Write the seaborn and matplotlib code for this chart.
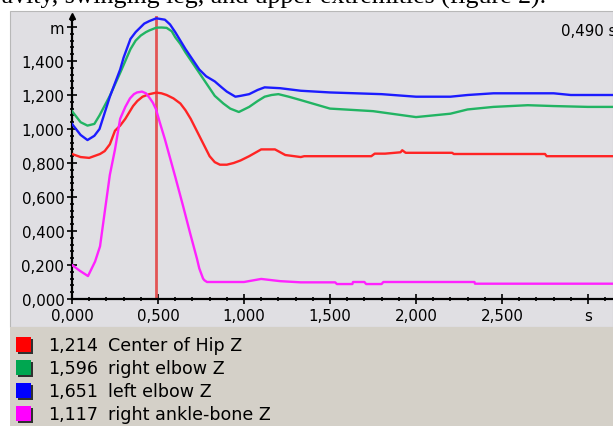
import numpy as np
import pandas as pd
import matplotlib
matplotlib.use("Agg")
import matplotlib.pyplot as plt
from matplotlib.patches import Rectangle
from matplotlib.ticker import MultipleLocator, FuncFormatter
import seaborn as sns

# series: time (s) and height (m)
hip_t = [0, 0.05, 0.10, 0.163, 0.19, 0.22, 0.25, 0.28, 0.31, 0.355, 0.38, 0.41, 0.45, 0.49, 0.52,
         0.55, 0.59, 0.63, 0.66, 0.69, 0.74, 0.77, 0.80, 0.83, 0.86, 0.90, 0.94, 0.98, 1.03, 1.10,
         1.18, 1.24, 1.33, 1.35, 1.74, 1.76, 1.82, 1.91, 1.92, 1.94, 2.21, 2.22, 2.75, 2.76, 3.145]
hip_z = [0.853, 0.835, 0.83, 0.853, 0.87, 0.91, 0.99, 1.02, 1.06, 1.135, 1.165, 1.19, 1.205, 1.214, 1.21,
         1.20, 1.18, 1.15, 1.11, 1.06, 0.96, 0.90, 0.84, 0.805, 0.79, 0.79, 0.80, 0.815, 0.84, 0.88,
         0.88, 0.847, 0.835, 0.84, 0.84, 0.855, 0.855, 0.863, 0.875, 0.86, 0.86, 0.853, 0.853, 0.84, 0.84]

r_elbow_t = [0, 0.05, 0.09, 0.13, 0.16, 0.22, 0.28, 0.34, 0.37, 0.40, 0.43, 0.45, 0.49, 0.52, 0.55,
             0.58, 0.60, 0.63, 0.66, 0.70, 0.74, 0.78, 0.83, 0.88, 0.92, 0.97, 1.03, 1.08, 1.12,
             1.16, 1.20, 1.26, 1.33, 1.5, 1.75, 2.0, 2.2, 2.3, 2.45, 2.65, 2.8, 3.0, 3.145]
r_elbow_z = [1.105, 1.04, 1.02, 1.03, 1.08, 1.195, 1.33, 1.47, 1.52, 1.55, 1.57, 1.58, 1.596, 1.597, 1.595,
             1.575, 1.54, 1.50, 1.45, 1.39, 1.33, 1.27, 1.195, 1.15, 1.12, 1.10, 1.13, 1.165, 1.19,
             1.20, 1.205, 1.19, 1.17, 1.12, 1.105, 1.07, 1.09, 1.115, 1.13, 1.14, 1.135, 1.13, 1.13]

l_elbow_t = [0, 0.05, 0.09, 0.13, 0.16, 0.22, 0.28, 0.30, 0.34, 0.37, 0.40, 0.42, 0.45, 0.49, 0.54,
             0.57, 0.60, 0.63, 0.66, 0.70, 0.74, 0.78, 0.83, 0.87, 0.90, 0.95, 0.98, 1.03, 1.08,
             1.12, 1.21, 1.33, 1.5, 1.8, 2.0, 2.2, 2.3, 2.45, 2.8, 2.9, 3.145]
l_elbow_z = [1.03, 0.965, 0.935, 0.96, 1.0, 1.19, 1.35, 1.42, 1.53, 1.57, 1.60, 1.62, 1.635, 1.651, 1.643,
             1.615, 1.57, 1.52, 1.47, 1.41, 1.35, 1.31, 1.28, 1.245, 1.22, 1.19, 1.195, 1.205, 1.23,
             1.245, 1.24, 1.225, 1.215, 1.205, 1.19, 1.19, 1.20, 1.21, 1.21, 1.20, 1.20]

ankle_t = [0, 0.047, 0.093, 0.134, 0.163, 0.19, 0.22, 0.25, 0.28, 0.31, 0.337, 0.36, 0.378, 0.407,
           0.43, 0.453, 0.47, 0.488, 0.51, 0.54, 0.57, 0.60, 0.645, 0.686, 0.727, 0.74, 0.762,
           0.77, 0.785, 1.0, 1.1, 1.21, 1.33, 1.53, 1.54, 1.63, 1.634, 1.70, 1.71, 1.80, 1.81,
           2.34, 2.343, 3.145]
ankle_z = [0.2, 0.165, 0.135, 0.22, 0.31, 0.51, 0.73, 0.88, 1.06, 1.13, 1.18, 1.205, 1.215, 1.22,
           1.21, 1.18, 1.155, 1.117, 1.04, 0.94, 0.83, 0.72, 0.55, 0.39, 0.235, 0.18, 0.12,
           0.11, 0.10, 0.10, 0.118, 0.105, 0.098, 0.098, 0.088, 0.088, 0.10, 0.10, 0.088, 0.088, 0.10,
           0.10, 0.09, 0.09]

names = ["Center of Hip Z", "right elbow Z", "left elbow Z", "right ankle-bone Z"]
cursor_vals = ["1,214", "1,596", "1,651", "1,117"]
cursor_t = 0.490
line_colors = ["#ff2424", "#22b463", "#1c1cff", "#ff22ff"]
box_colors = ["#ff0000", "#00a650", "#0000ff", "#ff00ff"]

df = pd.concat([
    pd.DataFrame({"t": hip_t, "z": hip_z, "series": names[0]}),
    pd.DataFrame({"t": r_elbow_t, "z": r_elbow_z, "series": names[1]}),
    pd.DataFrame({"t": l_elbow_t, "z": l_elbow_z, "series": names[2]}),
    pd.DataFrame({"t": ankle_t, "z": ankle_z, "series": names[3]}),
], ignore_index=True)

W, H = 613, 427
fx = lambda px: px / W
fy = lambda py: 1 - py / H

fig = plt.figure(figsize=(W / 100, H / 100), dpi=100)
fig.patch.set_facecolor("white")

# gray plot panel and beige legend panel
fig.patches.append(Rectangle((fx(10), fy(328)), fx(603), 316 / H, transform=fig.transFigure,
                             facecolor="#e0dfe3", edgecolor="#b8b8b8", lw=0.8, zorder=-2))
fig.patches.append(Rectangle((fx(10), 0), fx(603), fy(328), transform=fig.transFigure,
                             facecolor="#d4d0c8", edgecolor="none", zorder=-2))

# cropped caption line above the screenshot
fig.text(fx(546), fy(4), "gravity, swinging leg, and upper extremities (figure 2).",
         family="Liberation Serif", fontsize=18.6, ha="right", va="baseline")

ax = fig.add_axes([fx(72), fy(300), (W - 72) / W, (300 - 17) / H])
ax.set_zorder(5)
ax.patch.set_alpha(0)

sns.lineplot(data=df, x="t", y="z", hue="series", hue_order=names,
             palette=line_colors, linewidth=1.7, legend=False, ax=ax, zorder=3)

ax.axvline(cursor_t, color="#e35555", lw=2, zorder=2)

ax.set_xlim(0, (W - 72) / 172)
ax.set_ylim(0, 283 / 170)
ax.set_xlabel("")
ax.set_ylabel("")

for s in ["top", "right"]:
    ax.spines[s].set_visible(False)
for s in ["left", "bottom"]:
    ax.spines[s].set_linewidth(1.6)
    ax.spines[s].set_color("black")

ax.xaxis.set_major_locator(MultipleLocator(0.5))
ax.xaxis.set_minor_locator(MultipleLocator(0.1))
ax.yaxis.set_major_locator(MultipleLocator(0.2))
ax.yaxis.set_minor_locator(MultipleLocator(0.04))


def x_fmt(v, pos):
    if abs(v - 3.0) < 1e-6:
        return "s"
    return f"{v:.3f}".replace(".", ",")


def y_fmt(v, pos):
    if abs(v - 1.6) < 1e-6:
        return "m"
    return f"{v:.3f}".replace(".", ",")


ax.xaxis.set_major_formatter(FuncFormatter(x_fmt))
ax.yaxis.set_major_formatter(FuncFormatter(y_fmt))
ax.tick_params(which="major", direction="inout", length=7, width=1.2, labelsize=10.8,
               colors="black", pad=2)
ax.tick_params(which="minor", direction="inout", length=3, width=1.2)
ax.tick_params(axis="x", which="major", pad=3)

# arrow head on top of y axis
ax.plot([0], [1], marker="^", color="black", markersize=5, transform=ax.transAxes, clip_on=False)

fig.text(fx(561), fy(31), f"{cursor_t:.3f} s".replace(".", ","), fontsize=10.8, va="center")

# value legend under the plot
row_y = [346, 369, 392, 415]
for yy, name, val, bc in zip(row_y, names, cursor_vals, box_colors):
    fig.patches.append(Rectangle((fx(18), fy(yy + 9)), 15 / W, 15 / H, transform=fig.transFigure,
                                 facecolor="#303030", edgecolor="none", zorder=2))
    fig.patches.append(Rectangle((fx(16), fy(yy + 7)), 15 / W, 15 / H, transform=fig.transFigure,
                                 facecolor=bc, edgecolor="none", zorder=3))
    fig.text(fx(48), fy(yy), val, fontsize=12.6, va="center")
    fig.text(fx(108), fy(yy), name, fontsize=12.6, va="center")

fig.savefig("out.png", dpi=100)
